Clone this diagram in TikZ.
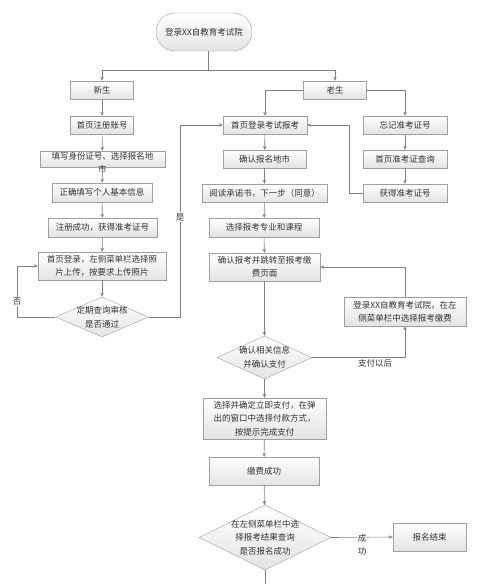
\documentclass[tikz,border=0pt]{standalone}
\usepackage{fontspec}
\setmainfont{Noto Sans CJK SC}
\usetikzlibrary{shapes.geometric,arrows.meta}
\newcommand{\fsz}{\fontsize{8.5}{13.5}\selectfont}
\begin{document}
\begin{tikzpicture}[x=1pt,y=-1pt,
  box/.style={draw=gray!75, top color=white, bottom color=gray!22, inner sep=0pt,
    font=\fsz, text=black!80, align=center},
  dia/.style={diamond, draw=gray!75, top color=white, bottom color=gray!22, inner sep=0pt},
  txt/.style={font=\fsz, text=black!80, align=center, inner sep=0pt},
  lbl/.style={font=\fsz, text=black!80, align=center, fill=white, inner sep=1pt},
  arr/.style={draw=gray, line width=0.6pt, -{Stealth[length=4pt,width=3.5pt]}},
  ln/.style={draw=gray, line width=0.6pt}]
\useasboundingbox (0,0) rectangle (500,584);
% nodes
\node[box, rounded corners=19pt, minimum width=96, minimum height=38] (start) at (204,32) {登录XX自教育考试院};
\node[box, minimum width=63, minimum height=18] (xs) at (102,90) {新生};
\node[box, minimum width=63, minimum height=18] (zc) at (102,125) {首页注册账号};
\node[box, minimum width=125, minimum height=16] (tx) at (102.5,159) {};
\node[txt, anchor=north] (txt) at (102.5,152) {填写身份证号、选择报名地\\市};
\node[box, minimum width=100, minimum height=19] (zq) at (102,192.5) {正确填写个人基本信息};
\node[box, minimum width=109, minimum height=19] (zs) at (102.5,227.5) {注册成功，获得准考证号};
\node[box, minimum width=128, minimum height=28] (sc) at (102,266) {首页登录，左侧菜单栏选择照\\片上传，按要求上传照片};
\node[dia, minimum width=93, minimum height=40] (d1) at (102,317) {};
\node[txt] (d1t) at (d1) {定期查询审核\\是否通过};
\node[box, minimum width=63, minimum height=18] (ls) at (335,90) {老生};
\node[box, minimum width=84, minimum height=18] (dl) at (265,125) {首页登录考试报考};
\node[box, minimum width=83, minimum height=18] (qr) at (264.5,159) {确认报名地市};
\node[box, minimum width=125, minimum height=18] (yd) at (264.5,193) {阅读承诺书，下一步（同意）};
\node[box, minimum width=110, minimum height=19] (xz) at (264,227.5) {选择报考专业和课程};
\node[box, minimum width=111, minimum height=28] (tz) at (264.5,267) {确认报考并跳转至报考缴\\费页面};
\node[box, minimum width=84, minimum height=18] (wj) at (405,125) {忘记准考证号};
\node[box, minimum width=84, minimum height=18] (cx) at (405,159) {首页准考证查询};
\node[box, minimum width=84, minimum height=18] (hd) at (405,193) {获得准考证号};
\node[box, minimum width=122, minimum height=29] (jf) at (405,311.5) {登录XX自教育考试院，在左\\侧菜单栏中选择报考缴费};
\node[dia, minimum width=95, minimum height=43] (d2) at (264.5,357.5) {};
\node[txt] (d2t) at (d2) {确认相关信息\\并确认支付};
\node[box, minimum width=123, minimum height=41] (zf) at (264.5,418.5) {选择并确定立即支付，在弹\\出的窗口中选择付款方式，\\按提示完成支付};
\node[box, minimum width=110, minimum height=28] (cg) at (264,471) {缴费成功};
\node[dia, minimum width=132, minimum height=65] (d3) at (265,537.5) {};
\node[txt] (d3t) at (d3) {在左侧菜单栏中选\\择报考结果查询\\是否报名成功};
\node[box, minimum width=73, minimum height=28] (bm) at (429.5,537) {报名结束};
\coordinate (j1) at (208,70);
\coordinate (bot) at (265,584);
% connectors
\draw[ln] (start.south -| j1) -- (j1);
\draw[arr] (j1) -| (xs.north);
\draw[arr] (j1) -| (ls.north);
\draw[arr] (xs) -- (zc);
\draw[arr] (zc) -- (tx);
\draw[arr] (tx) -- (zq);
\draw[arr] (zq) -- (zs);
\draw[arr] (zs) -- (sc);
\draw[arr] (sc) -- (d1);
\draw[arr] (d1.west) -- (17,317) |- (sc.west) node[lbl, pos=0.15] (no) {否};
\draw[arr] (d1.east) -- (180,317) |- (dl.west) node[lbl, pos=0.26] (yes) {是};
\draw[arr] (ls.west) -| (dl.north);
\draw[arr] (ls.east) -| (wj.north);
\draw[arr] (wj) -- (cx);
\draw[arr] (cx) -- (hd);
\draw[arr] (hd.west) -- (349,193) |- (dl.east);
\draw[arr] (dl) -- (qr);
\draw[arr] (qr) -- (yd);
\draw[arr] (yd) -- (xz);
\draw[arr] (xz) -- (tz);
\draw[arr] (tz) -- (d2);
\draw[arr] (d2) -- (zf);
\draw[arr] (zf) -- (cg);
\draw[arr] (cg) -- (d3);
\draw[arr] (d2.east) -| (jf.south);
\node[txt] (pay) at (375,363) {支付以后};
\draw[arr] (jf.north) |- (tz.east);
\draw[arr] (d3.east) -- (bm.west);
\node[lbl] (ok) at (362,545) {成\\功};
\draw[ln] (d3.south) -- (bot);
\end{tikzpicture}
\end{document}
